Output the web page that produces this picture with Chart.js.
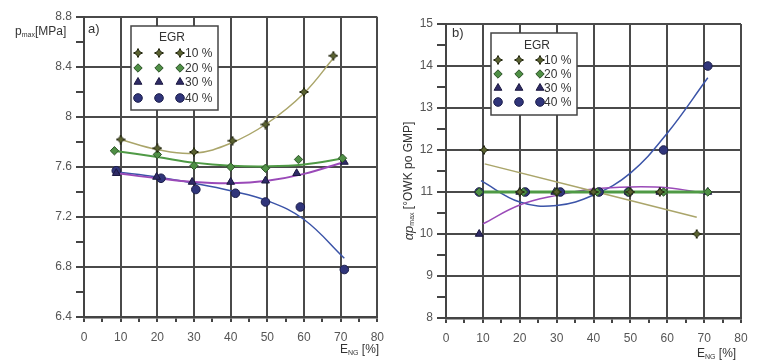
<!DOCTYPE html>
<html>
<head>
<meta charset="utf-8">
<script src="https://cdn.jsdelivr.net/npm/chart.js@4.4.1/dist/chart.umd.min.js"></script>
<style>
body { margin: 0; background: #fff; }
#wrap { position: relative; width: 768px; height: 364px; overflow: hidden; }
#ca { position: absolute; left: 0; top: 0; }
#cb { position: absolute; left: 384px; top: 0; }
</style>
</head>
<body>
<div id="wrap">
<canvas id="ca" width="392" height="364"></canvas>
<canvas id="cb" width="384" height="364"></canvas>
</div>
<script>
// legend entries
var legendTitle = 'EGR';
var egrLabels = ['10 %', '20 %', '30 %', '40 %'];

// panel a) - p_max [MPa] vs E_NG [%]
var aX10 = [10, 20, 30, 40.5, 49.5, 60, 68];
var aP10 = [7.82, 7.75, 7.72, 7.81, 7.94, 8.20, 8.49];
var aX20 = [8.3, 20, 30, 40, 49.5, 58.5, 70.5];
var aP20 = [7.73, 7.70, 7.61, 7.60, 7.59, 7.66, 7.67];
var aX30 = [8.8, 19.8, 29.5, 40, 49.5, 58, 71];
var aP30 = [7.55, 7.52, 7.48, 7.48, 7.49, 7.55, 7.64];
var aX40 = [8.8, 21, 30.5, 41.3, 49.5, 59, 71];
var aP40 = [7.57, 7.51, 7.42, 7.39, 7.32, 7.28, 6.78];

// panel a) trend curves
var aTX10 = [10, 20, 30, 40, 50, 60, 68];
var aT10 = [7.82, 7.74, 7.71, 7.79, 7.95, 8.19, 8.47];
var aTX20 = [8, 20, 30, 40, 50, 60, 71];
var aT20 = [7.73, 7.68, 7.635, 7.61, 7.605, 7.62, 7.67];
var aTX30 = [9, 20, 30, 40, 50, 60, 71];
var aT30 = [7.55, 7.51, 7.48, 7.47, 7.49, 7.545, 7.64];
var aTX40 = [9, 20, 30, 40, 50, 60, 71];
var aT40 = [7.56, 7.52, 7.47, 7.41, 7.33, 7.18, 6.87];

// panel b) - alpha p_max [deg CA after TDC] vs E_NG [%]
var bX10 = [10.3, 20, 30, 40, 50, 58, 68];
var bA10 = [12, 11, 11, 11, 11, 11, 10];
var bX20 = [9, 21, 30, 41, 49.5, 59, 71];
var bA20 = [11, 11, 11, 11, 11, 11, 11];
var bX30 = [9, 20, 29.5, 40, 49.5, 58, 71];
var bA30 = [10, 11, 11, 11, 11, 11, 11];
var bX40 = [9, 21.5, 31, 41.5, 49.5, 59, 71];
var bA40 = [11, 11, 11, 11, 11, 12, 14];

// panel b) trend curves
var bTX10 = [10.5, 68];
var bT10 = [11.67, 10.40];
var bTX20 = [9, 71];
var bT20 = [11, 11];
var bTX30 = [10, 20, 30, 40, 50, 60, 70];
var bT30 = [10.24, 10.69, 10.92, 11.07, 11.12, 11.10, 10.97];
var bTX40 = [9.5, 20, 30, 40, 50, 60, 71];
var bT40 = [11.27, 10.76, 10.68, 10.93, 11.45, 12.4, 13.72];

var FONT = '"Liberation Sans", Arial, sans-serif';

function pts(xs, ys) {
    return xs.map(function (x, i) { return { x: x, y: ys[i] }; });
}

// four pointed star marker for the 10 % series
function makeStar(size) {
    var c = document.createElement('canvas');
    c.width = size; c.height = size;
    var g = c.getContext('2d');
    var m = size / 2, a = size / 2 - 0.5, b = size * 0.15;
    g.beginPath();
    g.moveTo(m, m - a);
    g.lineTo(m + b, m - b);
    g.lineTo(m + a, m);
    g.lineTo(m + b, m + b);
    g.lineTo(m, m + a);
    g.lineTo(m - b, m + b);
    g.lineTo(m - a, m);
    g.lineTo(m - b, m - b);
    g.closePath();
    g.fillStyle = '#5a6230';
    g.fill();
    g.lineWidth = 1;
    g.strokeStyle = '#23260f';
    g.stroke();
    return c;
}

var markers = [
    { pointStyle: makeStar(10), radius: 5, fill: '#5a6230', stroke: '#23260f' },
    { pointStyle: 'rectRot', radius: 4.2, fill: '#4f8f45', stroke: '#2c5227' },
    { pointStyle: 'triangle', radius: 4.5, fill: '#2f2b66', stroke: '#1b1840' },
    { pointStyle: 'circle', radius: 4.3, fill: '#30357a', stroke: '#1b1d4a' }
];
var lineColors = ['#aaa56a', '#4f9a45', '#9a4ab8', '#3b54a8'];

function pointSet(data, k) {
    var m = markers[k];
    return {
        data: data, showLine: false, order: 1,
        pointStyle: m.pointStyle, pointRadius: m.radius, pointHoverRadius: m.radius,
        backgroundColor: m.fill, borderColor: m.stroke, pointBorderWidth: 1
    };
}
function lineSet(data, k, w) {
    return {
        data: data, showLine: true, order: 2, pointRadius: 0,
        borderColor: lineColors[k], borderWidth: w, tension: 0.4
    };
}

// draws text made of pieces (for subscripts)
function drawRich(ctx, parts, x, y, center) {
    var w = 0;
    parts.forEach(function (p) {
        ctx.font = (p[3] || '') + ' ' + p[1] + 'px ' + FONT;
        w += ctx.measureText(p[0]).width;
    });
    var cx = center ? x - w / 2 : x;
    parts.forEach(function (p) {
        ctx.font = (p[3] || '') + ' ' + p[1] + 'px ' + FONT;
        ctx.fillText(p[0], cx, y + p[2]);
        cx += ctx.measureText(p[0]).width;
    });
}

var decor = {
    id: 'decor',
    afterDraw: function (chart, args, o) {
        var ctx = chart.ctx;
        ctx.save();
        ctx.fillStyle = '#333';
        ctx.textBaseline = 'middle';
        ctx.textAlign = 'left';
        ctx.font = '13px ' + FONT;
        ctx.fillText(o.panel, o.panelPos[0], o.panelPos[1]);
        drawRich(ctx, o.xTitle, o.xTitlePos[0], o.xTitlePos[1], false);
        if (o.yRotate) {
            ctx.save();
            ctx.translate(o.yTitlePos[0], o.yTitlePos[1]);
            ctx.rotate(-Math.PI / 2);
            drawRich(ctx, o.yTitle, 0, 0, true);
            ctx.restore();
        } else {
            drawRich(ctx, o.yTitle, o.yTitlePos[0], o.yTitlePos[1], false);
        }

        // legend box
        var b = o.box;
        ctx.fillStyle = '#fff';
        ctx.fillRect(b[0], b[1], b[2] - b[0], b[3] - b[1]);
        ctx.strokeStyle = '#444';
        ctx.lineWidth = 1.5;
        ctx.strokeRect(b[0], b[1], b[2] - b[0], b[3] - b[1]);
        ctx.fillStyle = '#333';
        ctx.textAlign = 'center';
        ctx.font = '12px ' + FONT;
        ctx.fillText(legendTitle, o.titleXY[0], o.titleXY[1]);
        ctx.textAlign = 'left';
        egrLabels.forEach(function (lab, k) {
            var m = markers[k];
            o.markX.forEach(function (mx) {
                ctx.fillStyle = m.fill;
                ctx.strokeStyle = m.stroke;
                ctx.lineWidth = 1;
                Chart.helpers.drawPoint(ctx, { pointStyle: m.pointStyle, radius: m.radius, rotation: 0, borderWidth: 1 }, mx, o.rowsY[k]);
            });
            ctx.fillStyle = '#333';
            ctx.font = '12px ' + FONT;
            ctx.fillText(lab, o.textX, o.rowsY[k] + 1);
        });
        ctx.restore();
    }
};

function near(v, step) {
    return Math.abs(Math.round(v / step) * step - v) < 1e-6;
}

function axes(yMin, yMax, yStep, yMajor, yWidth, xHeight, yTickLen) {
    return {
        x: {
            type: 'linear', min: 0, max: 80,
            afterFit: function (s) { s.height = xHeight; },
            border: { color: '#444', width: 2.5 },
            grid: {
                color: function (c) { return near(c.tick.value, 10) ? '#4a4a4a' : 'rgba(0,0,0,0)'; },
                lineWidth: 2, tickColor: '#444', tickLength: 5
            },
            ticks: {
                stepSize: 5, autoSkip: false, maxRotation: 0, padding: 8,
                color: '#555', font: { family: FONT, size: 12 },
                callback: function (v) { return near(v, 10) ? String(v) : ''; }
            }
        },
        y: {
            min: yMin, max: yMax,
            afterFit: function (s) { s.width = yWidth; },
            border: { color: '#444', width: 2 },
            grid: {
                color: function (c) { return near(c.tick.value, yMajor) ? '#4a4a4a' : 'rgba(0,0,0,0)'; },
                lineWidth: 2, tickColor: '#444', tickLength: yTickLen
            },
            ticks: {
                stepSize: yStep, autoSkip: false, padding: 4,
                color: '#555', font: { family: FONT, size: 12 },
                callback: function (v) { return near(v, yMajor) ? String(Number(v.toFixed(1))) : ''; }
            }
        }
    };
}

new Chart(document.getElementById('ca').getContext('2d'), {
    type: 'scatter',
    data: {
        datasets: [
            lineSet(pts(aTX10, aT10), 0, 1.5),
            lineSet(pts(aTX20, aT20), 1, 2),
            lineSet(pts(aTX30, aT30), 2, 2),
            lineSet(pts(aTX40, aT40), 3, 1.5),
            pointSet(pts(aX10, aP10), 0),
            pointSet(pts(aX20, aP20), 1),
            pointSet(pts(aX30, aP30), 2),
            pointSet(pts(aX40, aP40), 3)
        ]
    },
    options: {
        responsive: false, animation: false, devicePixelRatio: 1,
        layout: { padding: { left: 0, right: 10, top: 17, bottom: 0 } },
        scales: axes(6.4, 8.8, 0.2, 0.4, 84, 47, 8),
        plugins: {
            legend: { display: false },
            tooltip: { enabled: false },
            decor: {
                panel: 'a)', panelPos: [88, 29],
                yTitle: [['p', 12, 0], ['max', 7, 3], ['[MPa]', 12, 0]], yTitlePos: [15, 32], yRotate: false,
                xTitle: [['E', 12, 0], ['NG', 7, 3], [' [%]', 12, 0]], xTitlePos: [340, 350],
                box: [131, 26, 218, 110], titleXY: [172, 38],
                rowsY: [53, 68, 82, 98], markX: [138, 159, 180], textX: 185
            }
        }
    },
    plugins: [decor]
});

new Chart(document.getElementById('cb').getContext('2d'), {
    type: 'scatter',
    data: {
        datasets: [
            lineSet(pts(bTX10, bT10), 0, 1.5),
            lineSet(pts(bTX20, bT20), 1, 3),
            lineSet(pts(bTX30, bT30), 2, 1.5),
            lineSet(pts(bTX40, bT40), 3, 1.5),
            pointSet(pts(bX10, bA10), 0),
            pointSet(pts(bX20, bA20), 1),
            pointSet(pts(bX30, bA30), 2),
            pointSet(pts(bX40, bA40), 3)
        ]
    },
    options: {
        responsive: false, animation: false, devicePixelRatio: 1,
        layout: { padding: { left: 0, right: 27, top: 24, bottom: 0 } },
        scales: axes(8, 15, 0.5, 1, 62, 46, 9),
        plugins: {
            legend: { display: false },
            tooltip: { enabled: false },
            decor: {
                panel: 'b)', panelPos: [68, 33],
                yTitle: [['α', 13, 0, 'italic'], ['p', 13, 0, 'italic'], ['max', 7, 3], [' [°OWK po GMP]', 12, 0]],
                yTitlePos: [25, 181], yRotate: true,
                xTitle: [['E', 12, 0], ['NG', 7, 3], [' [%]', 12, 0]], xTitlePos: [313, 354],
                box: [107, 33, 193, 115], titleXY: [153, 46],
                rowsY: [60, 74, 88, 102], markX: [114, 135, 156], textX: 160
            }
        }
    },
    plugins: [decor]
});
</script>
</body>
</html>
